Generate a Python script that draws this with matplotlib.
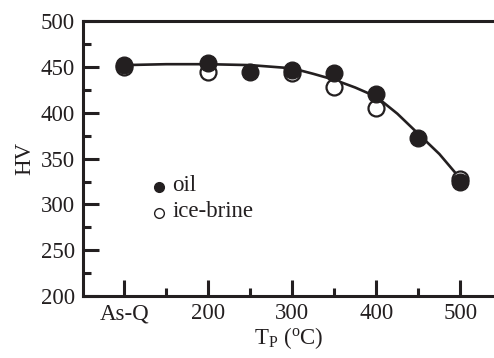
import matplotlib
matplotlib.use('Agg')
import matplotlib.pyplot as plt

plt.rcParams['font.family'] = ['Liberation Serif', 'DejaVu Serif']
plt.rcParams['mathtext.fontset'] = 'custom'
plt.rcParams['mathtext.rm'] = 'Liberation Serif'
plt.rcParams['mathtext.it'] = 'Liberation Serif:italic'

INK = '#231f20'

# x positions: As-Q is drawn at 100
tick_pos = [100, 200, 300, 400, 500]
tick_labels = ['As-Q', '200', '300', '400', '500']

oil_x = [100, 200, 250, 300, 350, 400, 450, 500]
oil_hv = [452, 454.5, 444.5, 447, 443, 421, 373, 324]

brine_x = [100, 200, 300, 350, 400, 500]
brine_hv = [450, 444.5, 443, 428.5, 405, 328]

# fitted trend line
fit_x = [100, 150, 200, 250, 300, 325, 350, 375, 400, 425, 450, 475, 500]
fit_hv = [452, 453, 453, 452, 448.5, 442.5, 436, 427.5, 417.5, 399, 377, 355, 328]

FS = 16.5

fig = plt.figure(figsize=(4.94, 3.58), dpi=100)
ax = fig.add_axes([0.168, 0.173, 0.832, 0.768])

ax.plot(fit_x, fit_hv, color=INK, lw=1.9, zorder=1)
ax.plot(brine_x, brine_hv, 'o', ms=11.5, mfc='white', mec=INK, mew=1.6, zorder=2)
ax.plot(oil_x, oil_hv, 'o', ms=12, mfc=INK, mec=INK, zorder=3)

ax.set_xlim(51, 540)
ax.set_ylim(200, 500)
ax.set_xticks(tick_pos)
ax.set_xticklabels(tick_labels)
ax.set_xticks([150, 250, 350, 450], minor=True)
ax.set_yticks(range(200, 501, 50))
ax.set_yticks(range(225, 500, 50), minor=True)

ax.spines['right'].set_visible(False)
for s in ['left', 'top', 'bottom']:
    ax.spines[s].set_linewidth(2.2)
    ax.spines[s].set_color(INK)
ax.tick_params(which='major', direction='in', length=11.5, width=2.2, color=INK,
               labelsize=FS, labelcolor=INK, pad=5)
ax.tick_params(which='minor', direction='in', length=6, width=2.2, color=INK)
ax.tick_params(axis='y', which='major', pad=6)

ax.set_ylabel('HV', fontsize=FS, color=INK, labelpad=4)
ax.set_xlabel(r'T$_\mathrm{P}$ ($^\mathrm{o}$C)', fontsize=FS, color=INK, labelpad=1)

# legend drawn as text + markers in axes coordinates
ax.plot([0.185], [0.396], 'o', ms=7, mfc=INK, mec=INK, transform=ax.transAxes, clip_on=False)
ax.plot([0.185], [0.302], 'o', ms=7, mfc='white', mec=INK, mew=1.0, transform=ax.transAxes, clip_on=False)
ax.text(0.218, 0.402, 'oil', fontsize=FS, color=INK, va='center', transform=ax.transAxes)
ax.text(0.218, 0.308, 'ice-brine', fontsize=FS, color=INK, va='center', transform=ax.transAxes)

fig.savefig('out.png', dpi=100)
